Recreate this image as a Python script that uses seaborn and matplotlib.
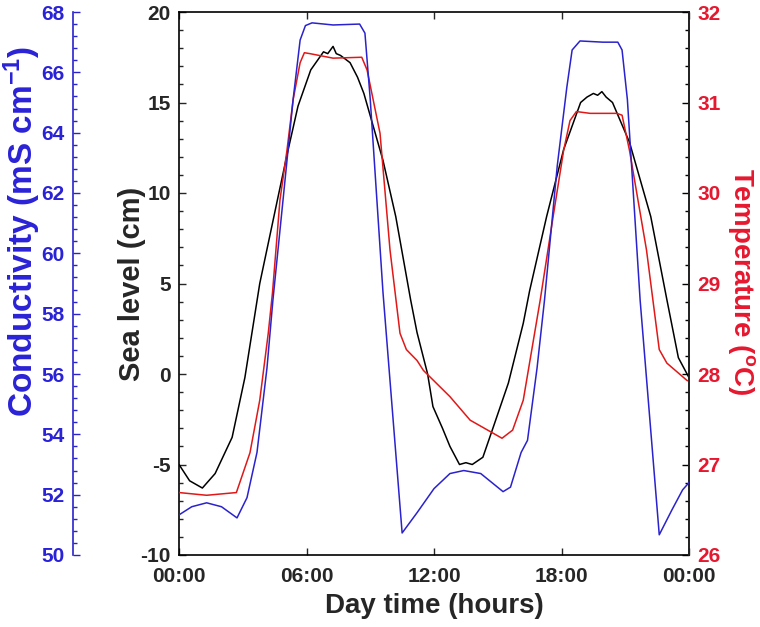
import matplotlib
matplotlib.use("Agg")
import matplotlib.pyplot as plt
from matplotlib.ticker import MultipleLocator, FixedLocator
import seaborn as sns

# ---- data ----
sea_hours = [0.0, 0.5, 1.1, 1.7, 2.5, 3.1, 3.8, 4.7, 5.1, 5.6, 6.2, 6.5, 6.8, 7.0, 7.25, 7.4,
             7.6, 8.05, 8.4, 8.7, 9.6, 10.2, 10.9, 11.2, 11.7, 11.95, 12.4, 12.75, 13.2,
             13.5, 13.8, 14.3, 14.8, 15.5, 16.2, 16.5, 17.3, 18.1, 18.9, 19.2, 19.5, 19.7,
             19.9, 20.1, 20.4, 21.2, 22.2, 22.96, 23.5, 24.0]
sea_level = [-5.0, -5.9, -6.3, -5.5, -3.5, -0.2, 5.0, 10.0, 12.2, 14.8, 16.8, 17.3, 17.8, 17.7, 18.1, 17.7,
             17.6, 17.2, 16.4, 15.5, 11.8, 8.7, 4.1, 2.3, 0.0, -1.8, -3.0, -4.0, -5.0,
             -4.9, -5.0, -4.6, -2.9, -0.5, 2.8, 4.6, 8.7, 12.4, 15.0, 15.3, 15.5, 15.4,
             15.6, 15.3, 15.0, 12.8, 8.7, 4.1, 0.9, -0.2]

cond_hours = [0.0, 0.6, 1.3, 2.0, 2.73, 3.2, 3.67, 4.14, 4.42, 4.9, 5.37, 5.7, 5.95, 6.26, 7.25,
              8.5, 8.75, 9.0, 9.6, 10.5, 11.2, 12.0, 12.75, 13.4, 14.2, 15.25, 15.6, 16.1,
              16.4, 16.85, 17.2, 17.8, 18.25, 18.5, 18.87, 19.95, 20.65, 20.85, 21.1, 21.7,
              22.6, 23.2, 23.7, 24.0]
conductivity = [51.33, 51.6, 51.73, 51.6, 51.23, 51.9, 53.4, 56.2, 58.45, 61.8, 65.1, 67.07, 67.55, 67.64, 67.57,
                67.6, 67.3, 65.1, 58.7, 50.73, 51.4, 52.2, 52.7, 52.8, 52.7, 52.1, 52.25, 53.4,
                53.8, 56.2, 58.45, 62.9, 65.5, 66.74, 67.04, 67.0, 67.0, 66.74, 65.1, 58.45,
                50.67, 51.5, 52.16, 52.4]

temp_hours = [0.0, 1.3, 2.7, 3.34, 3.8, 4.2, 4.4, 4.75, 5.08, 5.37, 5.7, 5.9, 6.16, 7.25, 8.6, 8.85,
              9.46, 9.93, 10.4, 10.7, 11.2, 11.5, 12.75, 13.7, 15.2, 15.7, 16.2, 17.0, 17.6,
              18.1, 18.4, 18.7, 19.35, 20.6, 20.85, 21.2, 22.0, 22.6, 22.96, 23.9, 24.0]
temperature = [26.69, 26.66, 26.69, 27.13, 27.71, 28.45, 28.9, 29.92, 30.47, 31.03, 31.44, 31.55, 31.54, 31.49, 31.5, 31.36,
               30.66, 29.37, 28.45, 28.27, 28.15, 28.04, 27.75, 27.49, 27.29, 27.38, 27.71, 28.82, 29.73,
               30.47, 30.8, 30.9, 30.88, 30.88, 30.86, 30.47, 29.37, 28.27, 28.12, 27.93, 27.92]

x_ticks = [0, 6, 12, 18, 24]
x_tick_labels = ["00:00", "06:00", "12:00", "18:00", "00:00"]

BLUE_TXT = "#2a22d6"
BLUE_LINE = "#2a22cc"
RED_TXT = "#e5182f"
RED_LINE = "#e01818"

sns.set_style("ticks")
plt.rcParams["font.family"] = ["Liberation Sans", "DejaVu Sans"]
plt.rcParams["font.weight"] = "bold"
plt.rcParams["axes.labelweight"] = "bold"
plt.rcParams["axes.unicode_minus"] = False
plt.rcParams["mathtext.fontset"] = "custom"
plt.rcParams["mathtext.bf"] = "Liberation Sans:bold"
plt.rcParams["mathtext.rm"] = "Liberation Sans:bold"
plt.rcParams["mathtext.default"] = "bf"

fig = plt.figure(figsize=(7.6, 6.27), dpi=100)
ax = fig.add_axes([179 / 760, 1 - 555 / 627, 510 / 760, 543 / 627])
ax_t = ax.twinx()
ax_c = ax.twinx()

TICK_FS = 15
LW = 1.1

sns.lineplot(x=sea_hours, y=sea_level, ax=ax, color="black", linewidth=LW,
             estimator=None, sort=False)
sns.lineplot(x=temp_hours, y=temperature, ax=ax_t, color=RED_LINE, linewidth=LW,
             estimator=None, sort=False)
sns.lineplot(x=cond_hours, y=conductivity, ax=ax_c, color=BLUE_LINE, linewidth=LW,
             estimator=None, sort=False)

# main axis
ax.set_xlim(0, 24)
ax.set_ylim(-10, 20)
ax.xaxis.set_major_locator(FixedLocator(x_ticks))
ax.set_xticklabels(x_tick_labels)
ax.yaxis.set_major_locator(MultipleLocator(5))
ax.yaxis.set_minor_locator(MultipleLocator(1))
ax.tick_params(axis="x", which="major", direction="in", top=True, bottom=True,
               length=5, width=1, labelsize=TICK_FS, pad=9)
ax.tick_params(axis="y", which="both", direction="in", left=True, right=False,
               labelsize=TICK_FS, width=1, pad=6)
ax.tick_params(axis="y", which="major", length=5)
ax.tick_params(axis="y", which="minor", length=3)
for lab in ax.get_xticklabels() + ax.get_yticklabels():
    lab.set_fontweight("bold")
ax.set_xlabel("Day time (hours)", fontsize=20, fontweight="bold", va="center")
ax.xaxis.set_label_coords(0.5, (555 - 606) / 543)
ax.set_ylabel("Sea level (cm)", fontsize=21, fontweight="bold", va="center")
ax.yaxis.set_label_coords((132 - 179) / 510, 0.5)
for s in ax.spines.values():
    s.set_linewidth(1.2)
    s.set_color("black")

# temperature axis (right)
ax_t.set_ylim(26, 32)
ax_t.yaxis.set_major_locator(MultipleLocator(1))
ax_t.yaxis.set_minor_locator(MultipleLocator(0.2))
ax_t.tick_params(axis="y", which="both", direction="in", right=True, left=False,
                 labelcolor=RED_TXT, labelsize=TICK_FS, color="black", width=1, pad=6)
ax_t.tick_params(axis="y", which="major", length=5)
ax_t.tick_params(axis="y", which="minor", length=3)
for lab in ax_t.get_yticklabels():
    lab.set_fontweight("bold")
ax_t.set_ylabel(r"Temperature ($^{o}$C)", fontsize=20, fontweight="bold",
                color=RED_TXT, rotation=270, va="center")
ax_t.yaxis.set_label_coords((741 - 179) / 510, (555 - 282) / 543)
ax_t.spines["right"].set_linewidth(1.2)
for k in ("left", "top", "bottom"):
    ax_t.spines[k].set_visible(False)

# conductivity axis (offset left)
ax_c.set_ylim(50, 68)
ax_c.yaxis.set_ticks_position("left")
ax_c.yaxis.set_label_position("left")
ax_c.spines["left"].set_position(("axes", (73 - 179) / 510))
ax_c.spines["left"].set_visible(True)
ax_c.spines["left"].set_color(BLUE_LINE)
ax_c.spines["left"].set_linewidth(1.2)
for k in ("right", "top", "bottom"):
    ax_c.spines[k].set_visible(False)
ax_c.yaxis.set_major_locator(MultipleLocator(2))
ax_c.yaxis.set_minor_locator(MultipleLocator(0.4))
ax_c.tick_params(axis="y", which="both", direction="in", left=True, right=False,
                 labelleft=True, labelright=False, labelcolor=BLUE_TXT, color=BLUE_LINE,
                 labelsize=TICK_FS, width=1, pad=6)
ax_c.tick_params(axis="y", which="major", length=5)
ax_c.tick_params(axis="y", which="minor", length=3)
for lab in ax_c.get_yticklabels():
    lab.set_fontweight("bold")
ax_c.set_ylabel(r"Conductivity (mS cm$^{-1}$)", fontsize=24, fontweight="bold",
                color=BLUE_TXT, va="center")
ax_c.yaxis.set_label_coords((22 - 179) / 510, (555 - 231) / 543)

for a in (ax, ax_t, ax_c):
    a.set_xlim(0, 24)
    a.set_facecolor("none")

fig.savefig("out.png", dpi=100)
